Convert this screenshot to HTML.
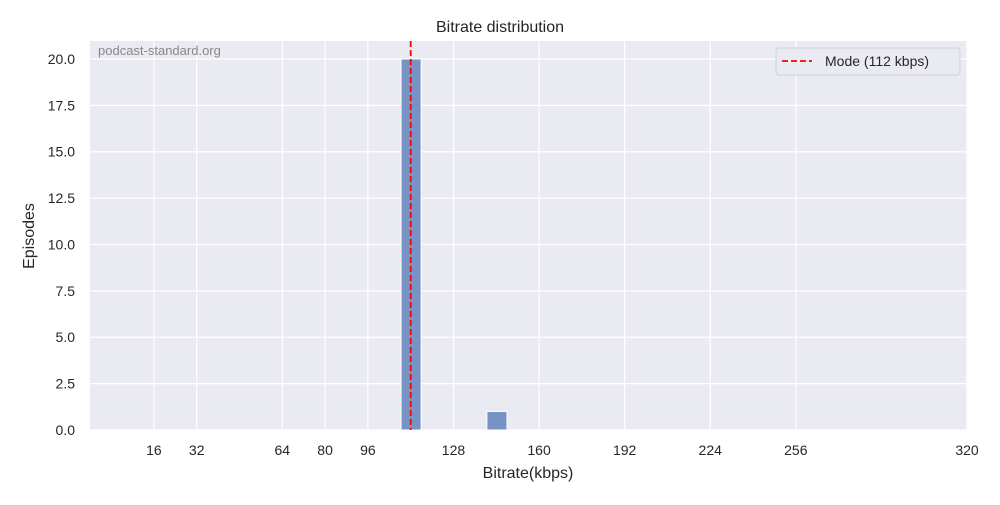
<!DOCTYPE html>
<html><head><meta charset="utf-8"><style>
body{margin:0;background:#fff;font-family:"Liberation Sans","DejaVu Sans",sans-serif}
</style></head><body>
<svg width="1000" height="500" xmlns="http://www.w3.org/2000/svg">
<rect x="0" y="0" width="1000" height="500" fill="#fff"/>
<rect x="90" y="41" width="877" height="389" fill="#eaeaf2"/>
<g id="grid"></g>
<g id="bars"></g>
<g id="ticks" font-size="14" fill="#262626"></g>
<text x="500" y="32" text-anchor="middle" font-size="16" fill="#262626">Bitrate distribution</text>
<text x="528" y="478" text-anchor="middle" font-size="16" fill="#262626">Bitrate(kbps)</text>
<text x="34" y="236" text-anchor="middle" font-size="16" fill="#262626" transform="rotate(-90 34 236)">Episodes</text>
<text x="98" y="55" font-size="13" fill="#888">podcast-standard.org</text>
<g>
<rect x="776" y="48" width="184" height="27" rx="3" fill="#eaeaf2" stroke="#d0d0d8"/>
<line x1="782" y1="61" x2="812" y2="61" stroke="red" stroke-width="1.8" stroke-dasharray="6,3"/>
<text x="825" y="66" font-size="14" fill="#262626">Mode (112 kbps)</text>
</g>
</svg>
<script>
const binStarts=[108.4,140.5];
const binWidths=[7.5,7.5];
const counts=[20,1];
const xTicks=[16,32,64,80,96,128,160,192,224,256,320];
const yTicks=[0,2.5,5,7.5,10,12.5,15,17.5,20];
const modeValue=112;
const X0=90,X1=967,Y0=430,Y1=41,xMin=-7.9,xMax=320,yMin=0,yMax=20.97;
const sx=v=>X0+(v-xMin)/(xMax-xMin)*(X1-X0);
const sy=v=>Y0-(v-yMin)/(yMax-yMin)*(Y0-Y1);
const NS="http://www.w3.org/2000/svg";
function mk(t,a,p){const e=document.createElementNS(NS,t);for(const k in a)e.setAttribute(k,a[k]);p.appendChild(e);return e;}
const grid=document.getElementById('grid'),bars=document.getElementById('bars'),ticks=document.getElementById('ticks');
xTicks.forEach(v=>{
 const l=mk('line',{x1:sx(v),x2:sx(v),y1:Y1,y2:Y0,stroke:'#fff','stroke-width':1.2},grid);
 
 
 const t=mk('text',{x:sx(v),y:455,'text-anchor':'middle'},ticks);t.textContent=v;
 
 
});
yTicks.forEach(v=>{
 const l=mk('line',{x1:X0,x2:X1,y1:sy(v),y2:sy(v),stroke:'#fff','stroke-width':1.2},grid);
 
 
 const t=mk('text',{x:75,y:sy(v)+5,'text-anchor':'end'},ticks);t.textContent=v.toFixed(1);
 
 
});
counts.forEach((c,i)=>{
 const x=sx(binStarts[i]),w=sx(binStarts[i]+binWidths[i])-x;
 const r=mk('rect',{x:x,y:sy(c),width:w,height:sy(0)-sy(c),fill:'#7793c4',stroke:'#fff','stroke-width':1},bars);
 
 
});
const m=mk('line',{x1:sx(modeValue),x2:sx(modeValue),y1:Y1,y2:Y0,stroke:'red','stroke-width':1.8,'stroke-dasharray':'6,3'},bars);


</script>
</body></html>
